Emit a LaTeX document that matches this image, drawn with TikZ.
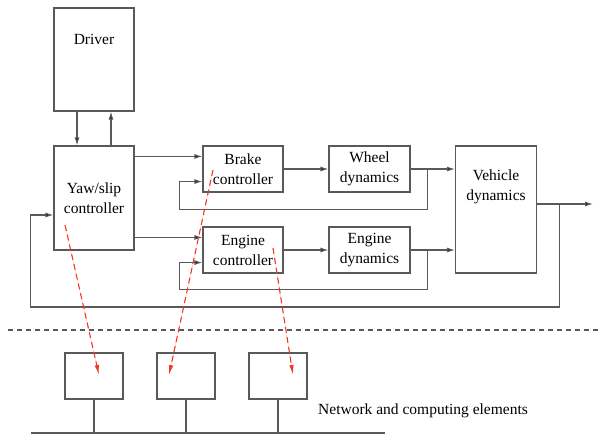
\documentclass[tikz,border=0pt]{standalone}
\usepackage{fontspec}
\setmainfont{Liberation Serif}
\usetikzlibrary{arrows.meta, positioning, calc}

\definecolor{taskred}{RGB}{238,58,36}

\begin{document}
\begin{tikzpicture}[
        x=1pt, y=-1pt,
        block/.style={rectangle, draw=black!65, line width=1.1pt, align=center, inner sep=0pt, font=\fontsize{15.5}{20}\selectfont},
        label/.style={align=center, inner sep=0pt, font=\fontsize{15.5}{20}\selectfont},
        sig/.style={-{Latex[length=8pt, width=5pt, fill=black]}, line width=1.1pt, draw=black!65},
        wire/.style={line width=1.1pt, draw=black!65},
        task/.style={-{Latex[length=10pt, width=4.5pt]}, dash pattern=on 6pt off 4pt, line width=1.1pt, draw=taskred, fill=taskred}
    ]
        \useasboundingbox (0,0) rectangle (600,434);

        % Driver and yaw/slip controller (left column)
        \node[block, minimum width=80pt, minimum height=103pt] (driver) at (94, 59.5) {};
        \node[label] (drivertxt) at (94, 39) {Driver};
        \node[block, minimum width=80pt, minimum height=104pt] (yaw) at (94, 198) {Yaw/slip\\controller};

        % Controllers and dynamics
        \node[block, minimum width=80pt, minimum height=46pt] (brake) at (243, 169) {Brake\\controller};
        \node[block, minimum width=81pt, minimum height=46pt] (wheel) at (369.5, 169) {Wheel\\dynamics};
        \node[block, minimum width=80pt, minimum height=46pt] (engctl) at (243, 250) {Engine\\controller};
        \node[block, minimum width=81pt, minimum height=46pt] (engdyn) at (369.5, 250) {Engine\\dynamics};
        \node[block, minimum width=81pt, minimum height=127pt] (vehicle) at (496, 209.5) {};
        \node[label] (vehicletxt) at (496, 187) {Vehicle\\dynamics};

        % Network and computing elements (bottom)
        \node[block, minimum width=58pt, minimum height=46pt] (cpu1) at (94, 376) {};
        \node[block, minimum width=58pt, minimum height=46pt] (cpu2) at (186, 376) {};
        \node[block, minimum width=58pt, minimum height=46pt] (cpu3) at (278, 376) {};
        \node[label, anchor=west] (nettxt) at (318, 411) {Network and computing elements};

        % Inputs
        \coordinate (bin1) at ([yshift=-11pt]brake.north west);
        \coordinate (bin2) at ([yshift=11pt]brake.south west);
        \coordinate (ein1) at ([yshift=-11pt]engctl.north west);
        \coordinate (ein2) at ([yshift=11pt]engctl.south west);
        \coordinate (vout) at ([yshift=5.5pt]vehicle.east);
        \coordinate (out) at ($(vout)+(56,0)$);

        % Driver <-> yaw/slip
        \draw[sig] ([xshift=-17pt]driver.south) -- ([xshift=-17pt]yaw.north);
        \draw[sig] ([xshift=17pt]yaw.north) -- ([xshift=17pt]driver.south);

        % Forward paths
        \draw[sig] (yaw.east |- bin1) -- (bin1);
        \draw[sig] (yaw.east |- ein1) -- (ein1);
        \draw[sig] (brake) -- (wheel);
        \draw[sig] (engctl) -- (engdyn);
        \draw[sig] (wheel.east) -- (wheel.east -| vehicle.west);
        \draw[sig] (engdyn.east) -- (engdyn.east -| vehicle.west);
        \draw[sig] (vout) -- (out);

        % Feedback loops
        \draw[sig] ($(wheel.east)+(17,0)$) |- ($(brake.south west)+(-23,17)$) |- (bin2);
        \draw[sig] ($(engdyn.east)+(17,0)$) |- ($(engctl.south west)+(-23,16)$) |- (ein2);
        \draw[sig] ($(vout)+(22,0)$) |- ($(yaw.west)+(-23,109)$) |- ([yshift=-17pt]yaw.west);

        % Separator
        \coordinate (sepl) at (8, 330);
        \coordinate (sepr) at (600, 330);
        \draw[wire, dash pattern=on 5pt off 4pt] (sepl) -- (sepr);

        % Bus
        \coordinate (busl) at (31, 433);
        \coordinate (busr) at (385, 433);
        \draw[wire] (busl) -- (busr);
        \draw[wire] (cpu1.south) -- (cpu1.south |- busl);
        \draw[wire] (cpu2.south) -- (cpu2.south |- busl);
        \draw[wire] (cpu3.south) -- (cpu3.south |- busl);

        % Task mapping
        \draw[task] ($(yaw.center)+(-29,27)$) -- ($(cpu1.center)+(5,-1)$);
        \draw[task] ($(brake.center)+(-30,1)$) -- ($(cpu2.center)+(-17,-1)$);
        \draw[task] ($(engctl.center)+(30,-2)$) -- ($(cpu3.center)+(15,-1)$);

    \end{tikzpicture}
\end{document}
